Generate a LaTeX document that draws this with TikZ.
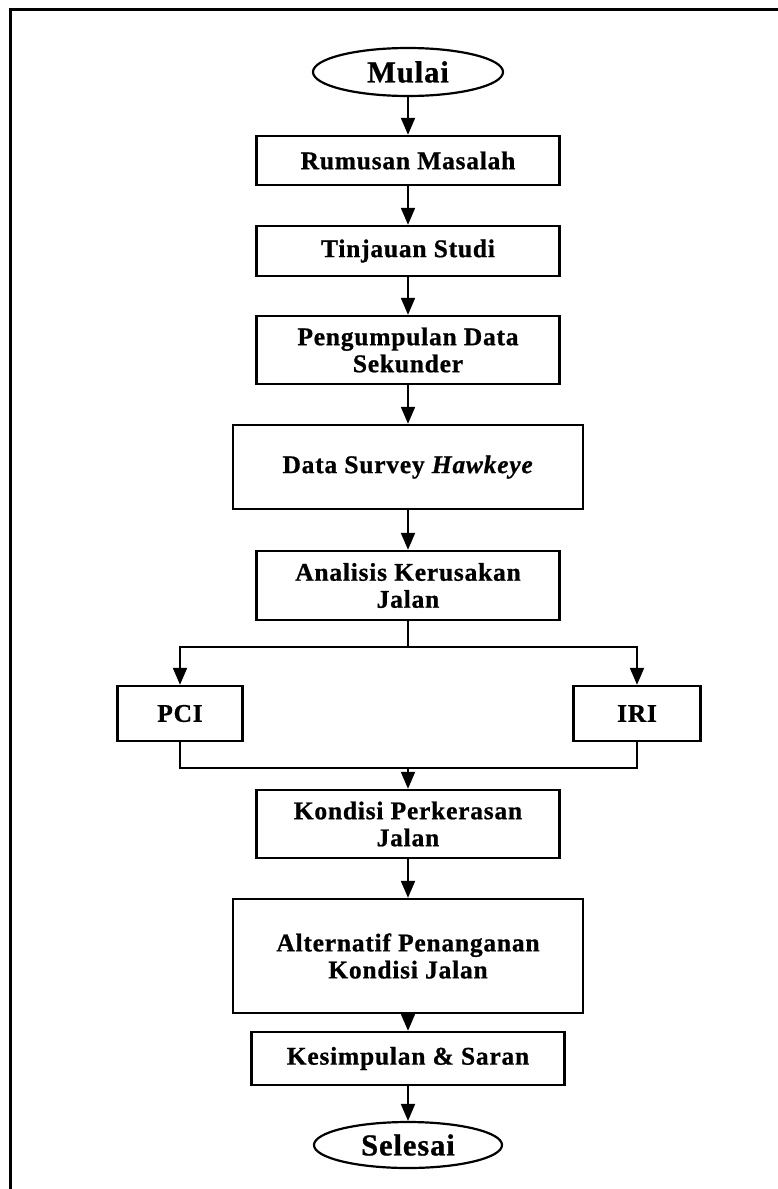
\documentclass[tikz,border=0pt]{standalone}
\usepackage{fontspec}
\setmainfont{Liberation Serif}[LetterSpace=3,BoldFeatures={FakeBold=0.8},BoldItalicFeatures={FakeBold=0.8}]
\usetikzlibrary{shapes.geometric,arrows.meta}
\begin{document}
\begin{tikzpicture}[x=1pt,y=-1pt,
 box/.style={draw,line width=2.4pt,rectangle,inner sep=0pt,align=center,font=\fontsize{25.5}{27}\selectfont\bfseries},
 term/.style={draw,line width=2.2pt,ellipse,inner sep=0pt,font=\fontsize{30.5}{34}\selectfont\bfseries},
 arr/.style={line width=2pt,-{Triangle[length=17pt,width=14pt]}},
 ln/.style={line width=2pt}]
\useasboundingbox (0,0) rectangle (778,1189);
\fill[white] (0,0) rectangle (778,1189);
\draw[line width=3pt] (10,1189) -- (10,9) -- (778,9);

\node[term,minimum width=190pt,minimum height=48pt] (mulai) at (408,72) {Mulai};
\node[box,minimum width=303pt,minimum height=49pt] (rm) at (408,160.5) {Rumusan Masalah};
\node[box,minimum width=303pt,minimum height=50pt] (ts) at (408,251) {Tinjauan Studi};
\node[box,minimum width=303pt,minimum height=68pt] (pd) at (408,350) {Pengumpulan Data\\Sekunder};
\node[box,minimum width=350pt,minimum height=84pt] (ds) at (408,467) {Data Survey \textit{Hawkeye}};
\node[box,minimum width=303pt,minimum height=69pt] (ak) at (408,585.5) {Analisis Kerusakan\\Jalan};
\node[box,minimum width=125pt,minimum height=55pt] (pci) at (180,713.5) {PCI};
\node[box,minimum width=127pt,minimum height=55pt] (iri) at (637,713.5) {IRI};
\node[box,minimum width=303pt,minimum height=68pt] (kp) at (408,824) {Kondisi Perkerasan\\Jalan};
\node[box,minimum width=350pt,minimum height=114pt] (ap) at (408,956) {Alternatif Penanganan\\Kondisi Jalan};
\node[box,minimum width=313pt,minimum height=53pt] (ks) at (408,1058.5) {Kesimpulan \& Saran};
\node[term,minimum width=188pt,minimum height=46pt] (sel) at (408,1145) {Selesai};

\coordinate (br) at (408,647);
\coordinate (jn) at (408,768);

\draw[arr] (mulai) -- (rm);
\draw[arr] (rm) -- (ts);
\draw[arr] (ts) -- (pd);
\draw[arr] (pd) -- (ds);
\draw[arr] (ds) -- (ak);
\draw[ln] (ak) -- (br);
\draw[arr] (br) -| (pci);
\draw[arr] (br) -| (iri);
\draw[ln] (pci) |- (jn);
\draw[ln] (iri) |- (jn);
\draw[arr] (jn) -- (kp);
\draw[arr] (kp) -- (ap);
\draw[arr] (ap) -- (ks);
\draw[arr] (ks) -- (sel);
\end{tikzpicture}
\end{document}
